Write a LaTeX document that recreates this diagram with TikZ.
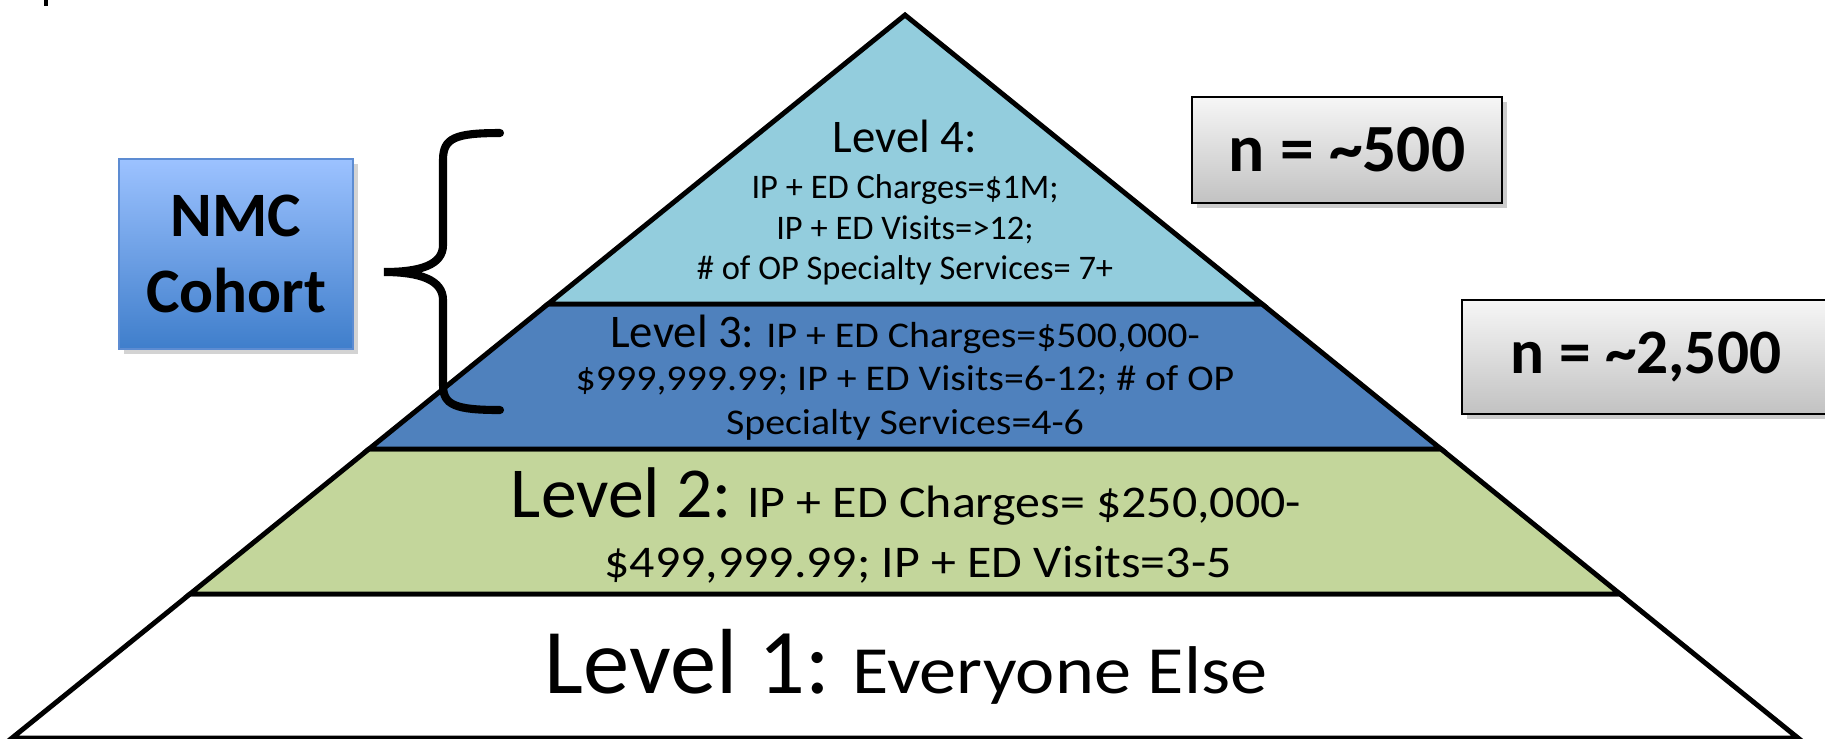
\documentclass[tikz,border=0pt]{standalone}
\usepackage{fontspec}
\setmainfont{Carlito}
\newfontfamily\widefont{Carlito}[FakeStretch=1.1]
\usetikzlibrary{shadows}

\definecolor{lvfour}{HTML}{93CDDD}
\definecolor{lvthree}{HTML}{4F81BD}
\definecolor{lvtwo}{HTML}{C3D69B}
\definecolor{nmctop}{HTML}{9CC2FF}
\definecolor{nmcbot}{HTML}{3F7ECB}
\definecolor{nmcline}{HTML}{5D8CD2}

\tikzset{
  level/.style={draw=black, line width=1.4pt},
  lvline/.style={anchor=base, inner sep=0pt},
  countbox/.style={draw=black, line width=0.7pt, top color=gray!7, bottom color=gray!48,
    inner sep=0pt, font=\fontsize{18}{22}\selectfont\bfseries,
    drop shadow={shadow xshift=1.5pt, shadow yshift=-1.5pt, opacity=0.4}},
  cohortbox/.style={draw=nmcline, line width=0.6pt, top color=nmctop, bottom color=nmcbot,
    minimum width=2.34cm, minimum height=1.9cm, align=center, inner sep=0pt,
    font=\fontsize{18}{21.6}\selectfont\bfseries,
    drop shadow={shadow xshift=1.5pt, shadow yshift=-1.5pt, opacity=0.35}},
  bracestyle/.style={line width=2.3pt, line cap=round}
}

\begin{document}
\begin{tikzpicture}[x=0.01cm, y=-0.01cm]
\useasboundingbox (0,0) rectangle (1825,738);
%Pyramid
\draw[level, fill=white] (12,738) -- (190,594) -- (1620,594) -- (1798,738) -- cycle;
\draw[level, fill=lvtwo] (190,594) -- (369,449) -- (1441,449) -- (1620,594) -- cycle;
\draw[level, fill=lvthree] (369,449) -- (548,304) -- (1262,304) -- (1441,449) -- cycle;
\draw[level, fill=lvfour] (548,304) -- (905,15) -- (1262,304) -- cycle;
%Level 4
\node[lvline, font=\fontsize{13.3}{16}\selectfont] (l4a) at (905,152) {Level 4:};
\node[lvline, font=\fontsize{9.8}{12}\selectfont] (l4b) at (905,198) {IP + ED Charges=\$1M;};
\node[lvline, font=\fontsize{9.8}{12}\selectfont] (l4c) at (905,239) {IP + ED Visits=>12;};
\node[lvline, font=\fontsize{9.8}{12}\selectfont] (l4d) at (905,279) {\# of OP Specialty Services= 7+};
%Level 3
\node[lvline, font=\widefont\fontsize{10.3}{12}\selectfont] (l3a) at (905,347)
  {{\normalfont\fontsize{13.3}{12}\selectfont Level 3:} IP + ED Charges=\$500,000-};
\node[lvline, font=\widefont\fontsize{10.3}{12}\selectfont] (l3b) at (905,390)
  {\$999,999.99; IP + ED Visits=6-12; \# of OP};
\node[lvline, font=\widefont\fontsize{10.3}{12}\selectfont] (l3c) at (905,434)
  {Specialty Services=4-6};
%Level 2
\node[lvline, font=\widefont\fontsize{12.9}{15}\selectfont] (l2a) at (906,517)
  {{\normalfont\fontsize{20.4}{15}\selectfont Level 2:} IP + ED Charges= \$250,000-};
\node[lvline, font=\widefont\fontsize{12.9}{15}\selectfont] (l2b) at (918,577)
  {\$499,999.99; IP + ED Visits=3-5};
%Level 1
\node[lvline, font=\widefont\fontsize{19.2}{22}\selectfont] (l1a) at (906,693)
  {{\normalfont\fontsize{26.3}{22}\selectfont Level 1:} Everyone Else};
%Cohort
\node[cohortbox] (nmc) at (236,254) {NMC\\ Cohort};
\draw[bracestyle] (500,133) .. controls (455,133) and (443,138) .. (443,160)
  -- (443,245) .. controls (443,265) and (420,272) .. (384,272)
  .. controls (420,272) and (443,280) .. (443,300)
  -- (443,385) .. controls (443,405) and (455,410) .. (500,410);
%Counts
\node[countbox, minimum width=3.10cm, minimum height=1.06cm,
  font=\fontsize{19.2}{22}\selectfont\bfseries] (n500) at (1347,150) {n = \textasciitilde500\hspace{0.22cm}};
\node[countbox, minimum width=3.68cm, minimum height=1.14cm] (n2500) at (1646,357) {n = \textasciitilde2,500};
%Cut mark
\fill (44,0) rectangle (48,6);
\end{tikzpicture}
\end{document}
